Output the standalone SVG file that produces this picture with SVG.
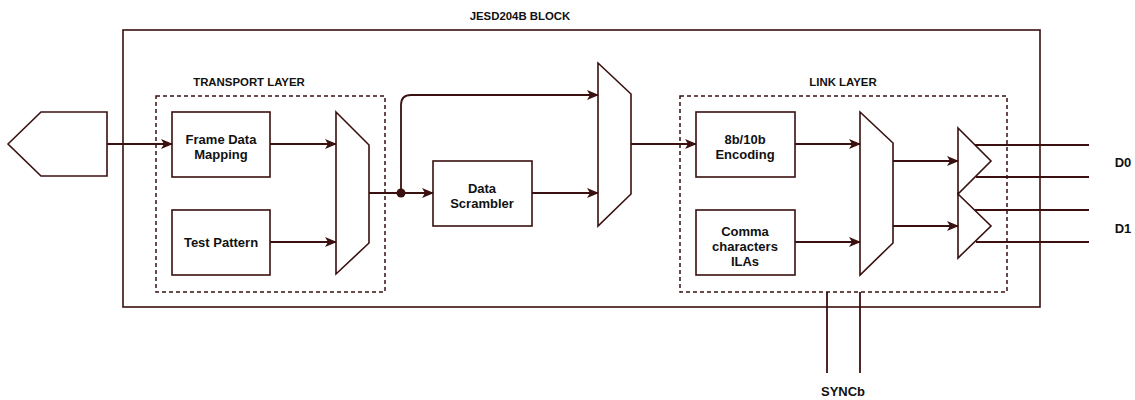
<svg xmlns="http://www.w3.org/2000/svg" width="1135" height="400" viewBox="0 0 1135 400">
<style>
.s{fill:none;stroke:#3a1010;stroke-width:1.6}
.b{fill:#fff;stroke:#3a1010;stroke-width:1.6}
.d{fill:none;stroke:#3a1010;stroke-width:1.5;stroke-dasharray:4 3}
.c{fill:none;stroke:#3a1010;stroke-width:1.8}
text{font-family:"Liberation Sans",Arial,sans-serif;font-weight:bold;font-size:13px;fill:#111;text-anchor:middle}
text.t{font-size:11.4px}
</style>
<defs>
<marker id="a" markerWidth="12" markerHeight="10" refX="11" refY="5" orient="auto" markerUnits="userSpaceOnUse">
<path d="M0,0 L12,5 L0,10 L3,5 Z" fill="#3a1010"/>
</marker>
</defs>
<rect width="1135" height="400" fill="#fff"/>
<g id="block">
<rect class="s" x="123" y="30" width="917" height="277"/>
<text class="t" x="520" y="20">JESD204B BLOCK</text>
</g>
<g id="transport">
<rect class="d" x="156" y="96" width="229" height="196"/>
<text class="t" x="249" y="86">TRANSPORT LAYER</text>
</g>
<g id="link">
<rect class="d" x="680" y="96" width="327" height="196"/>
<text class="t" x="843" y="86">LINK LAYER</text>
</g>
<g id="input"><path class="b" d="M8,144 L41,112 L107,112 L107,176 L41,176 Z"/></g>
<g id="framedata">
<rect class="b" x="172" y="112" width="98" height="65"/>
<text x="221" y="144">Frame Data</text>
<text x="221" y="159">Mapping</text>
</g>
<g id="testpattern">
<rect class="b" x="172" y="210" width="98" height="65"/>
<text x="221" y="247">Test Pattern</text>
</g>
<g id="mux1"><path class="b" d="M336,112 L369,145 L369,243 L336,274 Z"/></g>
<g id="scrambler">
<rect class="b" x="433" y="161" width="99" height="65"/>
<text x="482" y="193">Data</text>
<text x="482" y="208">Scrambler</text>
</g>
<g id="mux2"><path class="b" d="M598,63 L631,94 L631,194 L598,226 Z"/></g>
<g id="encoding">
<rect class="b" x="696" y="112" width="99" height="65"/>
<text x="745" y="144">8b/10b</text>
<text x="745" y="159">Encoding</text>
</g>
<g id="comma">
<rect class="b" x="696" y="210" width="99" height="65"/>
<text x="745" y="236">Comma</text>
<text x="745" y="251">characters</text>
<text x="745" y="266">ILAs</text>
</g>
<g id="mux3"><path class="b" d="M860,112 L893,143 L893,243 L860,275 Z"/></g>
<g id="drv0"><path class="b" d="M958,128 L991,161 L958,194 Z"/></g>
<g id="drv1"><path class="b" d="M958,194 L991,226 L958,258 Z"/></g>
<g id="connectors">
<path class="c" d="M107,144 L172,144" marker-end="url(#a)"/>
<path class="c" d="M270,144 L336,144" marker-end="url(#a)"/>
<path class="c" d="M270,242 L336,242" marker-end="url(#a)"/>
<path class="c" d="M369,193 L433,193" marker-end="url(#a)"/>
<circle cx="401" cy="193" r="4.5" fill="#3a1010"/>
<path class="c" d="M401,193 L401,105 Q401,95 411,95 L598,95" marker-end="url(#a)"/>
<path class="c" d="M532,193 L598,193" marker-end="url(#a)"/>
<path class="c" d="M631,144 L696,144" marker-end="url(#a)"/>
<path class="c" d="M795,144 L860,144" marker-end="url(#a)"/>
<path class="c" d="M795,242 L860,242" marker-end="url(#a)"/>
<path class="c" d="M893,161 L958,161" marker-end="url(#a)"/>
<path class="c" d="M893,226 L958,226" marker-end="url(#a)"/>
<path class="c" d="M975,145 L1089,145"/>
<path class="c" d="M976,177 L1089,177"/>
<path class="c" d="M975,210 L1089,210"/>
<path class="c" d="M976,242 L1089,242"/>
<path class="c" d="M827,292 L827,373"/>
<path class="c" d="M860,292 L860,373"/>
</g>
<g id="labels">
<text x="1123" y="167">D0</text>
<text x="1123" y="233">D1</text>
<text x="843" y="396">SYNCb</text>
</g>
</svg>
